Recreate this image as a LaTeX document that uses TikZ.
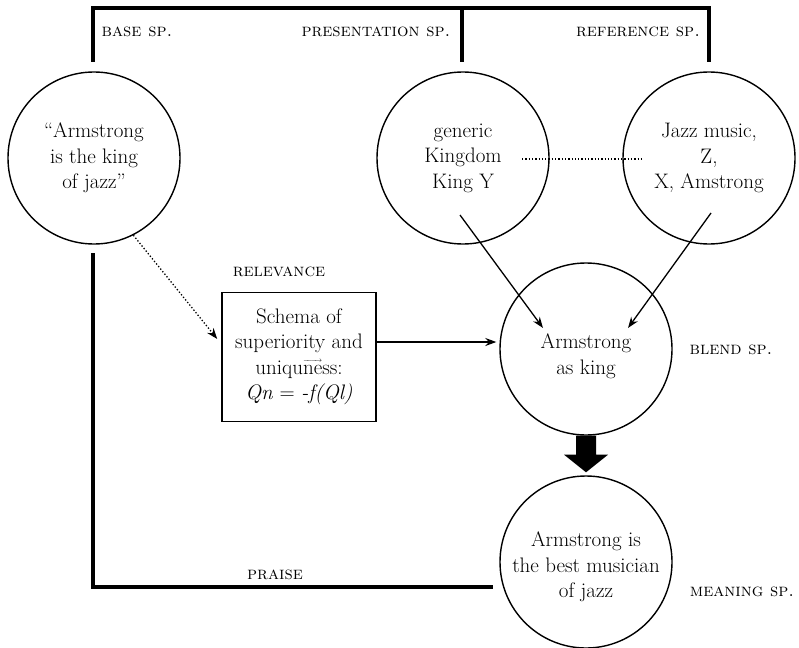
\documentclass[tikz,border=0pt]{standalone}
\usetikzlibrary{arrows.meta,calc}
% a thin arrow set just above a few letters
\newcommand\arrowover[1]{\setbox0\hbox{#1}\rlap{\raisebox{0.57em}{\hbox to \wd0{\scriptsize\rightarrowfill}}}#1}
\begin{document}
\begin{tikzpicture}[x=1pt,y=-1pt,
  space/.style={draw,circle,line width=1.4pt,minimum size=172pt,inner sep=0pt,align=center,
    font=\fontsize{21}{25.5}\selectfont},
  words/.style={align=center,inner sep=0pt,font=\fontsize{21}{25.5}\selectfont},
  schemabox/.style={draw,rectangle,line width=1.5pt,minimum width=154pt,minimum height=129pt,
    inner sep=0pt,align=center,font=\fontsize{21}{25.5}\selectfont},
  tag/.style={font=\fontsize{18}{20}\selectfont\scshape,inner sep=0pt},
  frame/.style={line width=4pt,line cap=rect},
  link/.style={line width=1.3pt,-{Stealth[length=11pt,width=8pt]}},
  dotlink/.style={line width=1.3pt,dotted,-{Stealth[length=11pt,width=8pt]}}]
\useasboundingbox (0,0) rectangle (799,647);

% spaces
\node[space] (base) at (94,158) {“Armstrong\\is the king\\of jazz”};
\node[space] (gen) at (463,158) {generic\\Kingdom\\King Y};
\node[space] (jazz) at (709,158) {Jazz music,\\Z,\\X, Amstrong};
\node[space] (blend) at (586,349) {};
\node[words] (blendtext) at (586,356) {Armstrong\\as king};
\node[space] (mean) at (586,562) {};
\node[words] (meantext) at (586,567) {Armstrong is\\the best musician\\of jazz};
\node[schemabox] (schema) at (299,357)
  {Schema of\\superiority and\\uniqu\arrowover{ne}ss:\\\textit{Qn} = \textit{-f(Ql)}};

% labels
\node[tag] (lbase) at (137,32) {base sp.};
\node[tag] (lpres) at (376,32) {presentation sp.};
\node[tag] (lref) at (638,32) {reference sp.};
\node[tag] (lrel) at (279,272) {relevance};
\node[tag] (lblend) at (731,350) {blend sp.};
\node[tag] (lpraise) at (275,575) {praise};
\node[tag] (lmean) at (742,592) {meaning sp.};

% frames
\coordinate (tl) at (93,60);
\coordinate (tm) at (462,60);
\coordinate (tr) at (709,60);
\coordinate (bl) at (93,255);
\coordinate (bend) at (491,587);
\draw[frame] (tl) -- (tl |- 0,8) -- (tr |- 0,8) -- (tr);
\draw[frame] (tm) -- (tm |- 0,8);
\draw[frame] (bl) -- (bl |- bend) -- (bend);

% mapping between inputs
\coordinate (d1) at ($(gen.center)+(59,1)$);
\coordinate (d2) at ($(jazz.center)+(-66,1)$);
\draw[line width=1.3pt,dotted] (d1) -- (d2);

% projections into the blend
\coordinate (g1) at ($(gen.center)+(-3,57)$);
\coordinate (j1) at ($(jazz.center)+(2,55)$);
\draw[link] (g1) -- ($(blend.center)+(-43,-21)$);
\draw[link] (j1) -- ($(blend.center)+(42,-21)$);
\draw[link] ([yshift=15pt]schema.east) -- ([yshift=15pt,xshift=-3pt]schema.east -| blend.west);
\draw[dotlink] (base.-63) -- ([xshift=-4pt,yshift=18pt]schema.west);

% blend to meaning
\fill ([xshift=-10pt]blend.south) -- ([xshift=-10pt,yshift=-19pt]blend.south)
  -- ([xshift=-22pt,yshift=-19pt]blend.south) -- ([yshift=3pt]mean.north)
  -- ([xshift=22pt,yshift=-19pt]blend.south) -- ([xshift=10pt,yshift=-19pt]blend.south)
  -- ([xshift=10pt]blend.south) -- cycle;
\end{tikzpicture}
\end{document}
